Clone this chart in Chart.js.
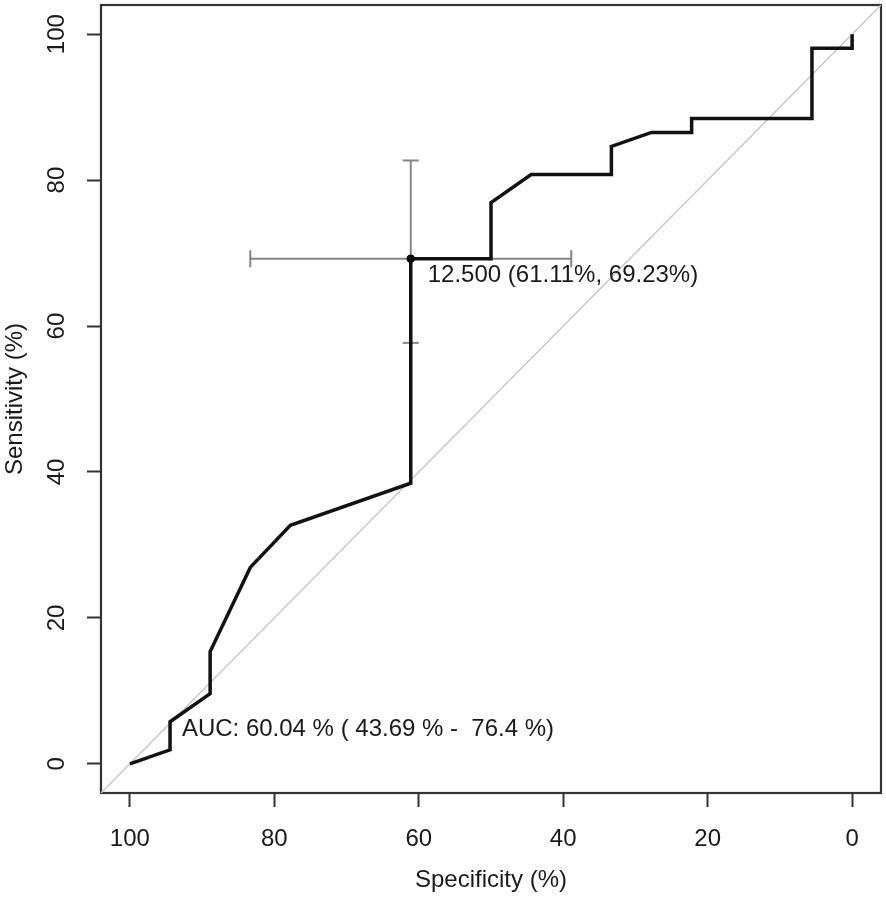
<!DOCTYPE html>
<html><head><meta charset="utf-8">
<script src="https://cdn.jsdelivr.net/npm/chart.js@4.4.1/dist/chart.umd.min.js"></script>
<style>html,body{margin:0;padding:0;background:#fff;}#wrap{width:886px;height:899px;}</style>
</head><body><div id="wrap"><canvas id="c" width="886" height="899"></canvas></div>
<script>
// ROC curve points (specificity %, sensitivity %)
const specificity = [100, 94.44, 94.44, 88.89, 88.89, 83.33, 77.78, 61.11, 61.11, 50, 50, 44.44, 33.33, 33.33, 27.78, 22.22, 22.22, 5.56, 5.56, 0, 0];
const sensitivity = [0, 1.92, 5.77, 9.62, 15.38, 26.92, 32.69, 38.46, 69.23, 69.23, 76.92, 80.77, 80.77, 84.62, 86.54, 86.54, 88.46, 88.46, 98.08, 98.08, 100];
// best threshold and its confidence intervals
const thresholdSpec = [61.11];
const thresholdSens = [69.23];
const ciSpecRange = [83.33, 38.89];
const ciSensRange = [57.69, 82.69];
// chance diagonal
const diagonalSpec = [110, -10];
const diagonalSens = [-10, 110];
// ticks
const xTicks = [100, 80, 60, 40, 20, 0];
const yTicks = [0, 20, 40, 60, 80, 100];
// texts
const xTitle = 'Specificity (%)';
const yTitle = 'Sensitivity (%)';
const thresholdLabel = '12.500 (61.11%, 69.23%)';
const aucLabel = 'AUC: 60.04 % ( 43.69 % -  76.4 %)';
const aucAnchor = [92.8, 5];

const FONT = '"Liberation Sans", Arial, Helvetica, sans-serif';
const TXT = '#1a1a1a';
Chart.defaults.font.family = FONT;
Chart.defaults.color = TXT;

const zip = (xs, ys) => xs.map((v, i) => ({x: v, y: ys[i]}));

const decor = {
  id: 'decor',
  beforeDatasetsDraw(chart) {
    const {ctx, chartArea: a} = chart;
    ctx.save();
    ctx.strokeStyle = '#333';
    ctx.lineWidth = 2.2;
    ctx.strokeRect(a.left, a.top, a.right - a.left, a.bottom - a.top);
    ctx.restore();
  },
  afterDatasetsDraw(chart) {
    const {ctx, scales: {x, y}} = chart;
    ctx.save();
    ctx.fillStyle = TXT;
    ctx.font = '24px ' + FONT;
    yTicks.forEach(v => {
      const py = y.getPixelForValue(v);
      ctx.save();
      ctx.translate(64, py);
      ctx.rotate(-Math.PI / 2);
      ctx.textAlign = 'center';
      ctx.textBaseline = 'alphabetic';
      ctx.fillText(String(v), 0, 0);
      ctx.restore();
    });
    ctx.textAlign = 'left';
    ctx.textBaseline = 'alphabetic';
    ctx.fillText(thresholdLabel, x.getPixelForValue(thresholdSpec[0]) + 17, y.getPixelForValue(thresholdSens[0]) + 23);
    ctx.fillText(aucLabel, x.getPixelForValue(aucAnchor[0]), y.getPixelForValue(aucAnchor[1]) + 8.3);
    ctx.restore();
  }
};

new Chart(document.getElementById('c'), {
  type: 'scatter',
  data: {
    datasets: [
      { label: 'threshold', data: zip(thresholdSpec, thresholdSens), pointRadius: 3.8, pointBackgroundColor: '#000', pointBorderColor: '#000', showLine: false },
      { label: 'roc', data: zip(specificity, sensitivity), showLine: true, borderColor: '#111', borderWidth: 3.5, pointRadius: 0, tension: 0, borderJoinStyle: 'miter' },
      { label: 'ciSpec', data: zip(ciSpecRange, [thresholdSens[0], thresholdSens[0]]), showLine: true, borderColor: '#858585', borderWidth: 2, pointStyle: 'line', rotation: 90, pointRadius: 8.5, pointBorderWidth: 2, pointBorderColor: '#858585' },
      { label: 'ciSens', data: zip([thresholdSpec[0], thresholdSpec[0]], ciSensRange), showLine: true, borderColor: '#858585', borderWidth: 2, pointStyle: 'line', rotation: 0, pointRadius: 8, pointBorderWidth: 2, pointBorderColor: '#858585' },
      { label: 'diagonal', data: zip(diagonalSpec, diagonalSens), showLine: true, borderColor: '#c8c8c8', borderWidth: 1.5, pointRadius: 0 }
    ]
  },
  options: {
    responsive: false,
    animation: false,
    events: [],
    layout: { autoPadding: false, padding: { left: 0, right: 5, top: 5, bottom: 0 } },
    plugins: { legend: { display: false }, tooltip: { enabled: false } },
    scales: {
      x: {
        type: 'linear', reverse: true, min: -4, max: 104,
        afterFit(s) { s.height = 106; s.paddingLeft = 0; s.paddingRight = 0; },
        afterBuildTicks(s) { s.ticks = xTicks.map(v => ({value: v})); },
        grid: { display: true, drawOnChartArea: false, drawTicks: true, tickLength: 14, tickWidth: 2, tickColor: '#333' },
        border: { display: false },
        ticks: { padding: 18, color: TXT, font: { size: 24 }, maxRotation: 0, callback: v => String(v) },
        title: { display: true, text: xTitle, color: TXT, font: { size: 24 }, padding: { top: 0, bottom: 4.3 } }
      },
      y: {
        type: 'linear', min: -4, max: 104,
        afterFit(s) { s.width = 101; s.paddingTop = 0; s.paddingBottom = 0; },
        afterBuildTicks(s) { s.ticks = yTicks.map(v => ({value: v})); },
        grid: { display: true, drawOnChartArea: false, drawTicks: true, tickLength: 14, tickWidth: 2, tickColor: '#333' },
        border: { display: false },
        ticks: { display: false },
        title: { display: true, text: yTitle, color: TXT, font: { size: 24 }, padding: { top: 0.6, bottom: 0 } }
      }
    }
  },
  plugins: [decor]
});
</script></body></html>
